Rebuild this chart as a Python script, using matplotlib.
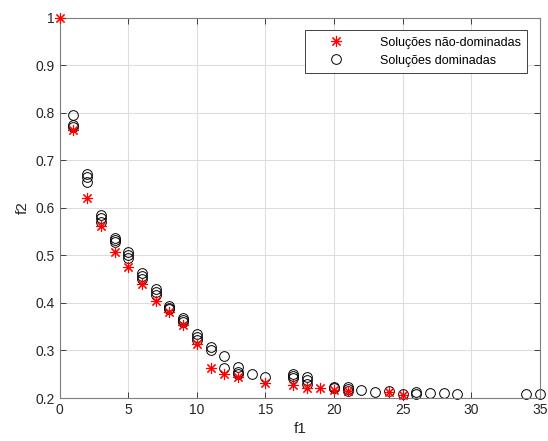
import numpy as np
import matplotlib.pyplot as plt

plt.rcParams['font.family'] = ['Liberation Sans', 'DejaVu Sans']

# non-dominated solutions (red asterisks)
nd_f1 = [0, 1, 2, 3, 4, 5, 6, 7, 8, 9, 10, 11, 12, 13, 15, 17, 18, 19, 20, 21, 24, 25]
nd_f2 = [1.0, 0.764, 0.62, 0.563, 0.507, 0.476, 0.44, 0.404, 0.38, 0.354, 0.313,
         0.264, 0.25, 0.245, 0.231, 0.227, 0.221, 0.221, 0.217, 0.215, 0.213, 0.206]

# dominated solutions (black circles)
d_f1 = [1, 1, 1, 2, 2, 2, 3, 3, 3, 4, 4, 4, 5, 5, 5, 6, 6, 6, 7, 7, 7, 8, 8, 8,
        9, 9, 9, 10, 10, 10, 11, 11, 12, 12, 13, 13, 13, 14, 15, 17, 17, 17,
        18, 18, 18, 20, 20, 21, 21, 21, 22, 23, 24, 25, 26, 26, 27, 28, 29, 34, 35]
d_f2 = [0.795, 0.775, 0.77, 0.672, 0.665, 0.655, 0.585, 0.578, 0.57,
        0.537, 0.532, 0.528, 0.507, 0.5, 0.494, 0.463, 0.456, 0.45,
        0.429, 0.423, 0.417, 0.394, 0.39, 0.387, 0.369, 0.364, 0.36,
        0.335, 0.328, 0.322, 0.307, 0.3, 0.288, 0.264, 0.266, 0.255, 0.25,
        0.25, 0.245, 0.25, 0.246, 0.242, 0.245, 0.237, 0.229,
        0.224, 0.221, 0.223, 0.219, 0.215, 0.217, 0.213, 0.215, 0.208,
        0.212, 0.209, 0.21, 0.21, 0.208, 0.208, 0.208]

fig = plt.figure(figsize=(5.48, 4.41), dpi=100)
ax = fig.add_axes([0.109, 0.0975, 0.876, 0.862])

ax.plot(nd_f1, nd_f2, linestyle='none', marker=(8, 2, 0), color='red',
        markersize=8, markeredgewidth=0.8, label='Soluções não-dominadas',
        zorder=3, clip_on=False)
ax.plot(d_f1, d_f2, linestyle='none', marker='o', markerfacecolor='none',
        markeredgecolor='black', markersize=7, markeredgewidth=0.7,
        label='Soluções dominadas', zorder=2, clip_on=False)

ax.set_xlim(0, 35)
ax.set_ylim(0.2, 1)
ax.set_xticks(np.arange(0, 36, 5))
ax.set_yticks(np.arange(0.2, 1.01, 0.1))
ax.set_yticklabels(['0.2', '0.3', '0.4', '0.5', '0.6', '0.7', '0.8', '0.9', '1'])
ax.grid(True, color='#dddddd', linewidth=0.8)
ax.set_axisbelow(True)
ax.tick_params(direction='in', top=True, right=True, labelsize=10,
               colors='#262626', length=4, width=0.6)
for s in ax.spines.values():
    s.set_color('#7f7f7f')
    s.set_linewidth(0.8)

ax.set_xlabel('f1', fontsize=11, color='#262626')
ax.set_ylabel('f2', fontsize=11, color='#262626')

leg = ax.legend(loc='upper right', fontsize=9, fancybox=False, framealpha=1,
                edgecolor='#404040', borderaxespad=1.0, handletextpad=1.5,
                handlelength=4.0, borderpad=0.5)
leg.get_frame().set_linewidth(0.7)

fig.savefig('out.png', dpi=100)
